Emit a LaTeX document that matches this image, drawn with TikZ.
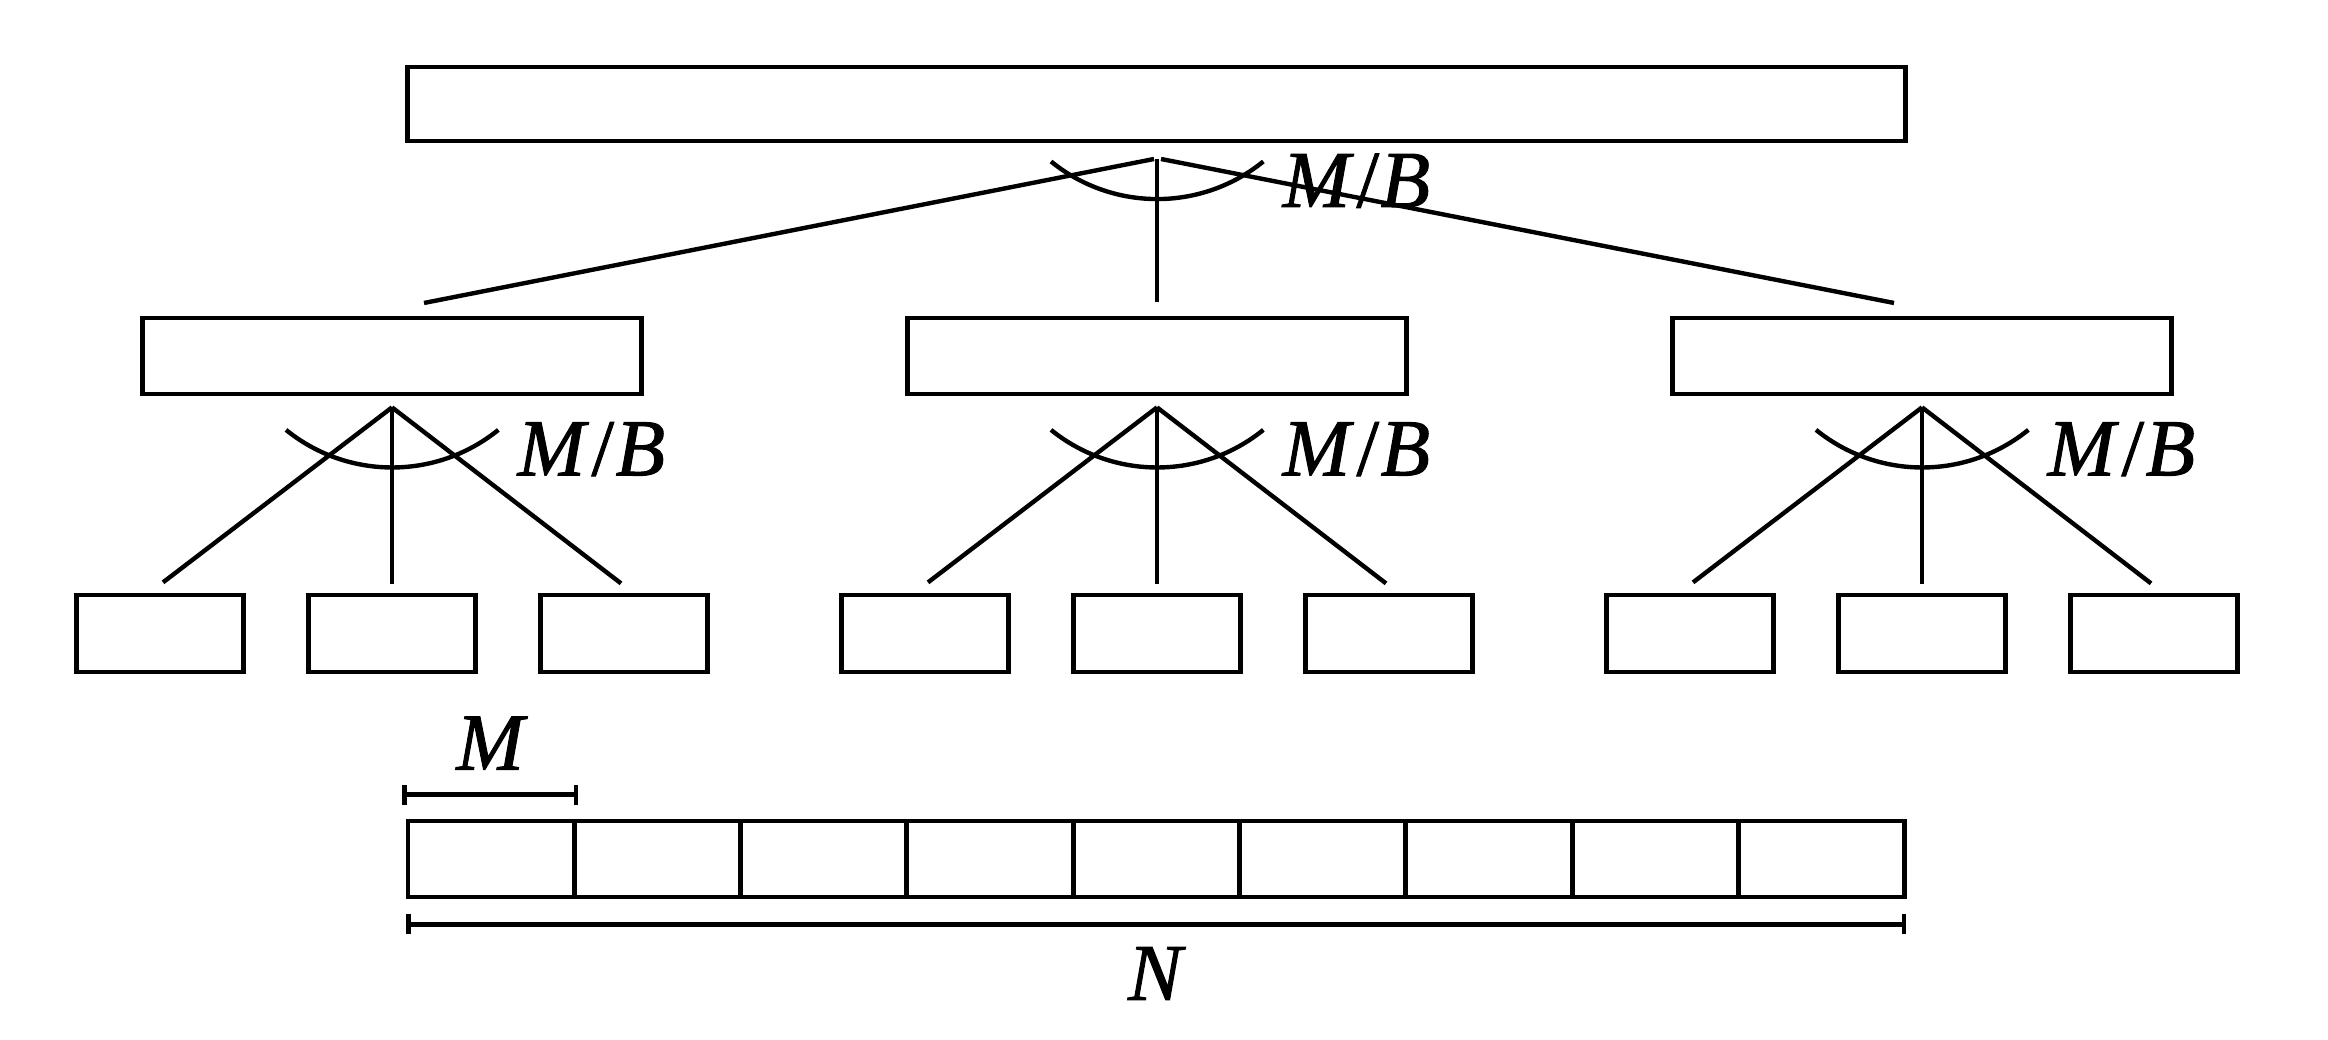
\documentclass[tikz,border=0pt]{standalone}
\usepackage{fontspec}
\setmainfont{Liberation Serif}
\newfontfamily\lblfont{Liberation Serif}[FakeBold=1.2,ItalicFeatures={FakeBold=1.2}]
\usetikzlibrary{calc}
\newcommand{\mbtext}{M\kern0.08em{\upshape /}\kern0.02em B}
\begin{document}
\begin{tikzpicture}[x=0.01cm,y=0.01cm,
  box/.style={draw,line width=1.35pt,inner sep=0pt,minimum height=0.76cm},
  link/.style={line width=1.25pt},
  lbl/.style={font=\lblfont\fontsize{23pt}{27pt}\selectfont\itshape,inner sep=0pt,anchor=base},
  lblw/.style={lbl,anchor=base west}]
\useasboundingbox (0,0) rectangle (2328,1040);
% top node
\node[box,minimum width=14.97cm,minimum height=0.74cm] (top) at (1156.5,936) {};
% middle and leaf nodes
\foreach \i/\c in {1/392,2/1157,3/1922} {
  \node[box,minimum width=4.99cm] (m\i) at (\c,684) {};
  \foreach \j/\d in {1/-232,2/0,3/232} {
    \node[box,minimum width=1.67cm,minimum height=0.77cm] (l\i\j) at (\c+\d,406.5) {};
  }
}
% array
\foreach \k in {1,...,9} {
  \node[box,minimum width=1.663cm] (a\k) at ({408+166.3*(\k-0.5)},181) {};
}
% top fan
\coordinate (tap) at (1157,881);
\coordinate (tl) at (424,737);
\coordinate (tv) at (1157,738);
\coordinate (tr) at (1894,737);
\draw[link] ([xshift=-0.03cm]tap) -- (tl);
\draw[link] (tap) -- (tv);
\draw[link] ([xshift=0.04cm]tap) -- (tr);
\draw[link] ([shift={(-106,-2.5)}]tap) arc[start angle=231,end angle=309,radius=1.686cm];
\node[lblw] (tlab) at ([shift={(125,-48)}]tap) {\mbtext};
% middle fans
\foreach \i in {1,2,3} {
  \coordinate (ap\i) at ([yshift=-0.11cm]m\i.south);
  \coordinate (el\i) at ([shift={(-229,-175)}]ap\i);
  \coordinate (ev\i) at ([shift={(0,-177)}]ap\i);
  \coordinate (er\i) at ([shift={(229,-176)}]ap\i);
  \draw[link] (ap\i) -- (el\i);
  \draw[link] (ap\i) -- (ev\i);
  \draw[link] (ap\i) -- (er\i);
  \draw[link] ([shift={(-106,-22.5)}]ap\i) arc[start angle=231,end angle=309,radius=1.686cm];
  \node[lblw] (lab\i) at ([shift={(125,-68)}]ap\i) {\mbtext};
}
% M bracket
\coordinate (mL) at ([shift={(-1,24)}]a1.north west);
\coordinate (mR) at ([shift={(-1,24)}]a1.north east);
\draw[link] (mL) -- (mR);
\draw[link] ([yshift=-0.1cm]mL) -- ([yshift=0.1cm]mL);
\draw[link] ([yshift=-0.1cm]mR) -- ([yshift=0.1cm]mR);
\node[lbl] (Mlab) at ($(mL)!0.5!(mR)+(0,25)$) {M};
% N bracket
\coordinate (nL) at ([shift={(3,-25)}]a1.south west);
\coordinate (nR) at ([shift={(-3,-25)}]a9.south east);
\draw[link] (nL) -- (nR);
\draw[link] ([yshift=-0.1cm]nL) -- ([yshift=0.1cm]nL);
\draw[link] ([yshift=-0.1cm]nR) -- ([yshift=0.1cm]nR);
\node[lbl] (Nlab) at (1155,40) {N};
\end{tikzpicture}
\end{document}
